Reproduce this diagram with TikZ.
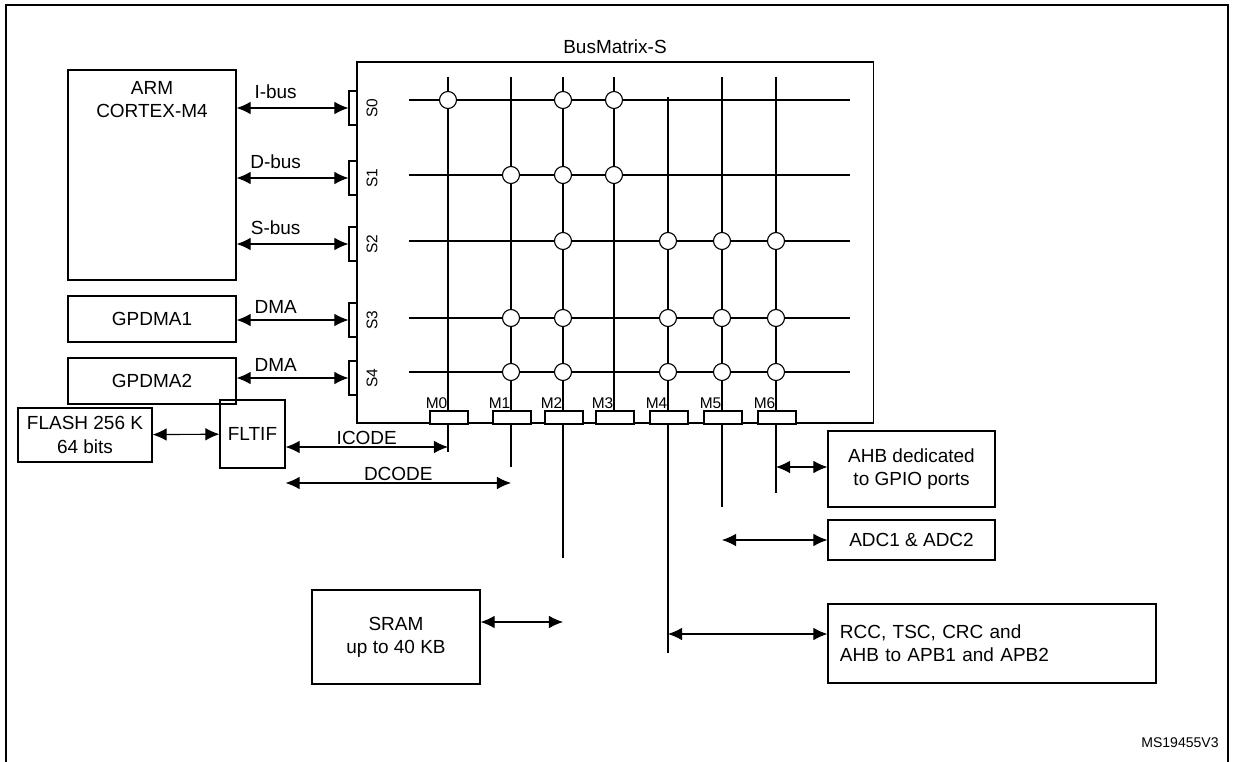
\documentclass[tikz,border=0pt]{standalone}
\usepackage{fontspec}
\setmainfont{Liberation Sans}
\usetikzlibrary{arrows.meta}
\tikzset{
  box/.style={draw, thick, align=center, inner sep=2pt, font=\fontsize{13.5}{16.5}\selectfont},
  port/.style={draw, thick, fill=white, inner sep=0pt},
  bus/.style={thick},
  link/.style={thick, {Latex[length=10pt,width=9pt]}-{Latex[length=10pt,width=9pt]}},
  sw/.style={circle, draw, thick, fill=white, minimum size=17*0.025cm, inner sep=0pt},
  lbl/.style={font=\fontsize{13.5}{16.5}\selectfont, inner sep=1pt},
  plbl/.style={font=\fontsize{11}{13}\selectfont, inner sep=1pt}
}
\begin{document}
\begin{tikzpicture}[x=0.025cm, y=-0.025cm]
    \useasboundingbox (0,0) rectangle (1237,762);
    \draw[thick] (6,762) -- (6,5) -- (1228,5) -- (1228,762);
    % masters on the left
    \node[box, minimum width=4.2cm, minimum height=5.25cm, label={[lbl, anchor=north, align=center, yshift=-7pt]north:ARM\\CORTEX-M4}] at (152,175) (arm) {};
    \node[box, minimum width=4.2cm, minimum height=1.15cm] at (152,319) (dma1) {GPDMA1};
    \node[box, minimum width=4.2cm, minimum height=1.15cm] at (152,381) (dma2) {GPDMA2};
    % bus matrix
    \node[draw, thick, minimum width=12.9cm, minimum height=9.025cm, inner sep=0pt, label={[lbl, yshift=4pt]north:BusMatrix-S}] at (615,242.5) (bm) {};
    \foreach \s/\py/\ly in {0/108/100, 1/178/175, 2/244/241, 3/320/318, 4/378/372} {
        \node[port, minimum width=0.2cm, minimum height=0.85cm] at (353,\py) (S\s) {};
        \node[plbl, rotate=90] at (372,\py) {S\s};
        \coordinate (h\s) at (409,\ly);
        \draw[bus] (h\s) -- (850,\ly);
    }
    \foreach \m/\mx/\top/\bot in {0/448/77/452, 1/511/77/467, 2/563/77/558, 3/614/77/417, 4/668/97/653, 5/722/77/507, 6/776/77/493} {
        \draw[bus] (\mx,\top) -- (\mx,\bot);
        \node[port, minimum width=0.95cm, minimum height=0.325cm, label={[plbl, anchor=south east]north:M\m}] at (\mx+1,417.5) (M\m) {};
    }
    % switch points
    \foreach \mx/\ly in {448/100, 563/100, 614/100,
                         511/175, 563/175, 614/175,
                         563/241, 668/241, 722/241, 776/241,
                         511/318, 563/318, 668/318, 722/318, 776/318,
                         511/372, 563/372, 668/372, 722/372, 776/372}
        \node[sw] at (\mx,\ly) {};
    % slave side links
    \draw[link] (arm.east |- S0) -- node[lbl, above, xshift=-12pt, yshift=5pt] {I-bus} (S0.west);
    \draw[link] (arm.east |- S1) -- node[lbl, above, xshift=-12pt, yshift=5pt] {D-bus} (S1.west);
    \draw[link] (arm.east |- S2) -- node[lbl, above, xshift=-12pt, yshift=5pt] {S-bus} (S2.west);
    \draw[link] (dma1.east |- S3) -- node[lbl, above, xshift=-12pt, yshift=3pt] {DMA} (S3.west);
    \draw[link] (dma2.east |- S4) -- node[lbl, above, xshift=-12pt, yshift=3pt] {DMA} (S4.west);
    % slaves below
    \node[box, minimum width=3.35cm, minimum height=1.35cm] at (85,435) (flash) {FLASH 256 K\\64 bits};
    \node[box, minimum width=1.625cm, minimum height=1.7cm] at (252.5,434) (fltif) {FLTIF};
    \node[box, minimum width=4.2cm, minimum height=2.35cm] at (396,637) (sram) {SRAM\\up to 40 KB};
    \node[box, minimum width=4.175cm, minimum height=1.9cm] at (911.5,469) (gpio) {AHB dedicated\\to GPIO ports};
    \node[box, minimum width=4.175cm, minimum height=1.0cm] at (911.5,540) (adc) {ADC1 \& ADC2};
    \node[box, minimum width=8.2cm, minimum height=1.975cm, align=left, text width=7.6cm] at (992,643.5) (rcc) {RCC, TSC, CRC and\\AHB to APB1 and APB2};
    \coordinate (icode) at (448,447);
    \coordinate (dcode) at (511,483);
    \coordinate (sramx) at (563,622);
    \coordinate (gpiox) at (776,467);
    \coordinate (adcx) at (722,540);
    \coordinate (rccx) at (668,634);
    \draw[link] (flash) -- (fltif);
    \draw[link] (fltif.east |- icode) -- node[lbl, above] {ICODE} (icode);
    \draw[link] (fltif.east |- dcode) -- node[lbl, above] {DCODE} (dcode);
    \draw[link] (sram.east |- sramx) -- (sramx);
    \draw[link] (gpiox) -- (gpio.west |- gpiox);
    \draw[link] (adcx) -- (adc.west |- adcx);
    \draw[link] (rccx) -- (rcc.west |- rccx);
    \node[font=\fontsize{10}{12}\selectfont] at (1180,743) (ref) {MS19455V3};
\end{tikzpicture}
\end{document}
